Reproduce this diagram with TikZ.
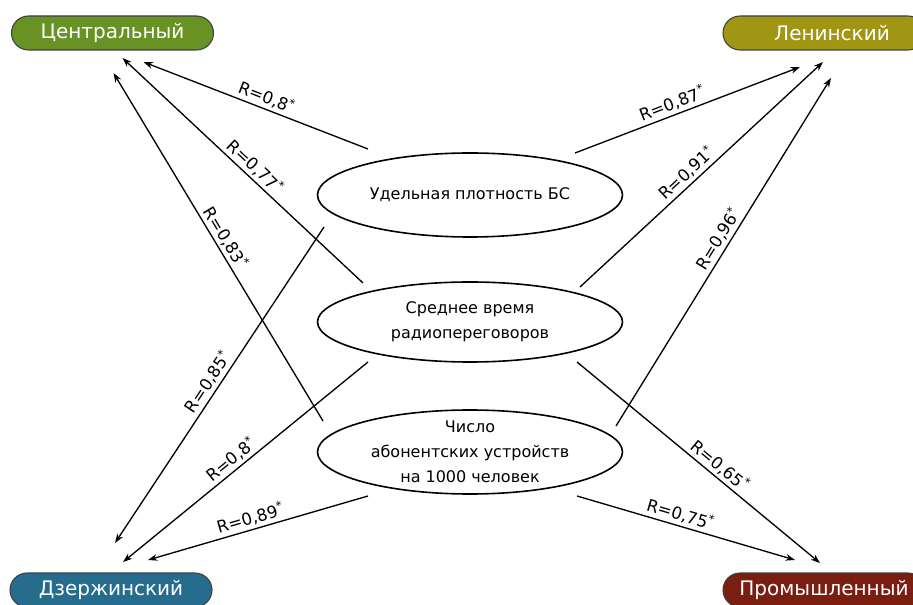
\documentclass[tikz,border=0pt]{standalone}
\usepackage{fontspec}
\setmainfont{DejaVu Sans}
\usepackage{tikz}
\usetikzlibrary{arrows.meta,positioning,calc,shapes.geometric}
\definecolor{cgreen}{RGB}{104,146,36}
\definecolor{colive}{RGB}{160,150,20}
\definecolor{cblue}{RGB}{38,108,140}
\definecolor{cmaroon}{RGB}{122,30,18}
\tikzset{
  distr/.style={draw=black!75, line width=0.8pt, rounded corners=12.75pt,
                minimum width=151.5pt, minimum height=25.5pt, inner sep=0pt,
                text=white, font=\fontsize{15}{18}\selectfont},
  ell/.style={draw, ellipse, line width=1.2pt, inner sep=0pt,
              minimum width=228.75pt},
  elltxt/.style={align=center, font=\fontsize{12}{18.75}\selectfont},
  corr/.style={-{Stealth[length=7pt,width=5pt]}, line width=1pt},
  rlbl/.style={sloped, above, inner sep=2pt, font=\fontsize{12.5}{14}\selectfont},
}

\begin{document}
\begin{tikzpicture}[x=0.75pt, y=-0.75pt]
  \clip (0,0) rectangle (913,605);
%---------------- districts ----------------
  \node[distr, fill=cgreen]  (cen) at (112.5,33)  {Центральный};
  \node[distr, fill=colive]  (len) at (824,33)    {\hspace*{12pt}Ленинский};
  \node[distr, fill=cblue]   (dze) at (111,590)   {Дзержинский};
  \node[distr, fill=cmaroon] (pro) at (824,590)   {Промышленный};
%---------------- factors ----------------
  \node[ell, minimum height=63pt,
        label={[elltxt]center:Удельная плотность БС}] (e1) at (470,195) {};
  \node[ell, minimum height=60pt,
        label={[elltxt]center:Среднее время\\радиопереговоров}] (e2) at (470,322) {};
  \node[ell, minimum height=63pt,
        label={[elltxt]center:Число\\абонентских устройств\\на 1000 человек}] (e3) at (470,452) {};
%---------------- arrow ends ----------------
  % on the factors
  \coordinate (e1c) at ([shift={(-102,-46)}]e1.center);
  \coordinate (e1l) at ([shift={(105,-42)}]e1.center);
  \coordinate (e1d) at ([shift={(-146,32)}]e1.center);
  \coordinate (e2c) at ([shift={(-107,-39)}]e2.center);
  \coordinate (e2l) at ([shift={(110,-35)}]e2.center);
  \coordinate (e2d) at ([shift={(-102,40)}]e2.center);
  \coordinate (e2p) at ([shift={(107,40)}]e2.center);
  \coordinate (e3c) at ([shift={(-147,-31)}]e3.center);
  \coordinate (e3l) at ([shift={(146,-26)}]e3.center);
  \coordinate (e3d) at ([shift={(-102,44)}]e3.center);
  \coordinate (e3p) at ([shift={(107,44)}]e3.center);
  % under the districts
  \coordinate (cen1) at ([shift={(31,29)}]cen.center);
  \coordinate (cen2) at ([shift={(10,25)}]cen.center);
  \coordinate (cen3) at ([shift={(1,40)}]cen.center);
  \coordinate (len1) at ([shift={(-24,34)}]len.center);
  \coordinate (len2) at ([shift={(-1,29)}]len.center);
  \coordinate (len3) at ([shift={(7,45)}]len.center);
  \coordinate (dze1) at ([shift={(4,-47)}]dze.center);
  \coordinate (dze2) at ([shift={(12,-28)}]dze.center);
  \coordinate (dze3) at ([shift={(37,-30)}]dze.center);
  \coordinate (pro2) at ([shift={(-4,-27)}]pro.center);
  \coordinate (pro3) at ([shift={(-29,-30)}]pro.center);
%---------------- correlations ----------------
  \draw[corr] (e1c) -- node[rlbl, pos=0.47] {R=0,8\textsuperscript{*}}  (cen1);
  \draw[corr] (e1l) -- node[rlbl, pos=0.45] {R=0,87\textsuperscript{*}} (len1);
  \draw[corr] (e1d) -- node[rlbl, pos=0.51] {R=0,85\textsuperscript{*}} (dze1);
  \draw[corr] (e2c) -- node[rlbl, pos=0.48] {R=0,77\textsuperscript{*}} (cen2);
  \draw[corr] (e2l) -- node[rlbl, pos=0.47] {R=0,91\textsuperscript{*}} (len2);
  \draw[corr] (e2d) -- node[rlbl, pos=0.53] {R=0,8\textsuperscript{*}}  (dze2);
  \draw[corr] (e2p) -- node[rlbl, pos=0.56] {R=0,65\textsuperscript{*}} (pro2);
  \draw[corr] (e3c) -- node[rlbl, pos=0.51] {R=0,83\textsuperscript{*}} (cen3);
  \draw[corr] (e3l) -- node[rlbl, pos=0.52] {R=0,96\textsuperscript{*}} (len3);
  \draw[corr] (e3d) -- node[rlbl, pos=0.52] {R=0,89\textsuperscript{*}} (dze3);
  \draw[corr] (e3p) -- node[rlbl, pos=0.46] {R=0,75\textsuperscript{*}} (pro3);
\end{tikzpicture}
\end{document}
